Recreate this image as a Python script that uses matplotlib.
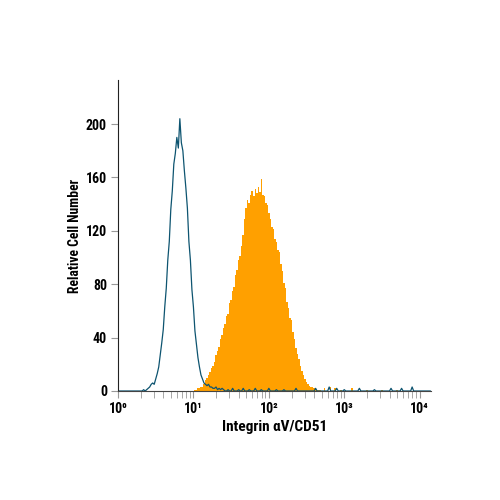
import matplotlib
matplotlib.use('Agg')
import matplotlib.pyplot as plt
import numpy as np
from matplotlib.ticker import FixedLocator, NullFormatter

# histogram bins are 0.02 decades wide; each block gives its first bin centre (log10)
binWidth = 0.02

isotypeStart = 0.30
isotypeCounts = [0, 0, 1, 0, 1, 2, 3, 5, 6, 5, 9, 13, 18, 27, 36, 46, 63, 77, 98, 112,
                 136, 150, 170, 178, 190, 182, 204, 186, 180, 165, 152, 137, 112, 98, 76, 63,
                 45, 35, 25, 18, 12, 9, 6, 5, 4, 5, 3, 3, 2, 2, 3, 1, 2, 1, 2, 1]
isotypeTailPos = [1.46, 1.52, 1.60, 1.66, 1.74, 1.82, 1.90, 2.00, 2.10, 2.20, 2.36, 2.62,
                  2.80, 2.90, 3.00, 3.20, 3.40, 3.62, 3.76, 3.90]
isotypeTailCnt = [1, 2, 1, 2, 1, 2, 1, 2, 1, 1, 2, 2, 3, 2, 1, 2, 1, 2, 2, 3]

stainedStart = 1.00
stainedCounts = [0, 1, 1, 2, 2, 3, 3, 5, 8, 10, 12, 14, 17, 19, 22, 27, 30, 33, 39, 42,
                 47, 50, 56, 58, 66, 68, 75, 78, 87, 91, 98, 101, 109, 117, 129, 137, 143, 141,
                 147, 150, 146, 151, 148, 153, 149, 159, 147, 146, 141, 139, 133, 129, 123, 121,
                 114, 112, 106, 104, 95, 90, 81, 77, 67, 62, 55, 53, 44, 39, 32, 28, 24, 19,
                 15, 12, 9, 7, 5, 4, 3, 3, 2, 2, 1, 1, 1, 0]
stainedTailPos = [2.74, 2.82, 2.88, 2.96, 3.10, 3.30, 3.50, 3.70]
stainedTailCnt = [2, 3, 2, 1, 2, 1, 1, 1]

yTicks = [0, 40, 80, 120, 160, 200]
xTickLabels = ['10⁰', '10¹', '10²', '10³', '10⁴']

nBins = 208
edgesLog = -0.01 + binWidth * np.arange(nBins + 1)
centersLog = binWidth * np.arange(nBins)


def buildCounts(start, counts, tailPos, tailCnt):
    full = np.zeros(nBins)
    i0 = int(round(start / binWidth))
    full[i0:i0 + len(counts)] = counts
    for p, c in zip(tailPos, tailCnt):
        full[int(round(p / binWidth))] = c
    return full


isotype = buildCounts(isotypeStart, isotypeCounts, isotypeTailPos, isotypeTailCnt)
stained = buildCounts(stainedStart, stainedCounts, stainedTailPos, stainedTailCnt)

fontList = ['Roboto Condensed', 'Liberation Sans', 'DejaVu Sans']

fig = plt.figure(figsize=(5, 5), dpi=100)
ax = fig.add_axes([0.236, 0.218, 0.626, 0.622])
ax.fill_between(10 ** edgesLog, np.append(stained, 0), step='post', color='#FFA000',
                lw=0, antialiased=False)
ax.plot(10 ** centersLog, isotype, color='#0d5470', lw=0.9)

ax.set_xscale('log')
ax.set_xlim(1, 10 ** 4.15)
ax.set_ylim(0, 233)

ax.spines['top'].set_visible(False)
ax.spines['right'].set_visible(False)
ax.spines['left'].set_color('#222222')
ax.spines['bottom'].set_color('#444444')

ax.xaxis.set_major_locator(FixedLocator([1, 10, 100, 1000, 10000]))
minors = [m * 10 ** d for d in range(4) for m in range(2, 10)]
ax.xaxis.set_minor_locator(FixedLocator(minors))
ax.xaxis.set_minor_formatter(NullFormatter())
ax.set_xticklabels(xTickLabels, family=fontList, fontweight='bold', fontsize=10)
ax.tick_params(axis='x', which='both', direction='out', length=5, color='#999999', pad=3)

ax.set_yticks(yTicks)
ax.set_yticklabels([str(v) for v in yTicks], family=fontList, fontweight='bold', fontsize=10)
ax.tick_params(axis='y', direction='out', length=5, color='#999999', pad=3)

ax.set_xlabel('Integrin αV/CD51', family=fontList, fontweight='bold', fontsize=11, labelpad=3)
ax.set_ylabel('Relative Cell Number', family=fontList, fontweight='bold', fontsize=9.8, labelpad=3)

fig.savefig('out.png', dpi=100)
